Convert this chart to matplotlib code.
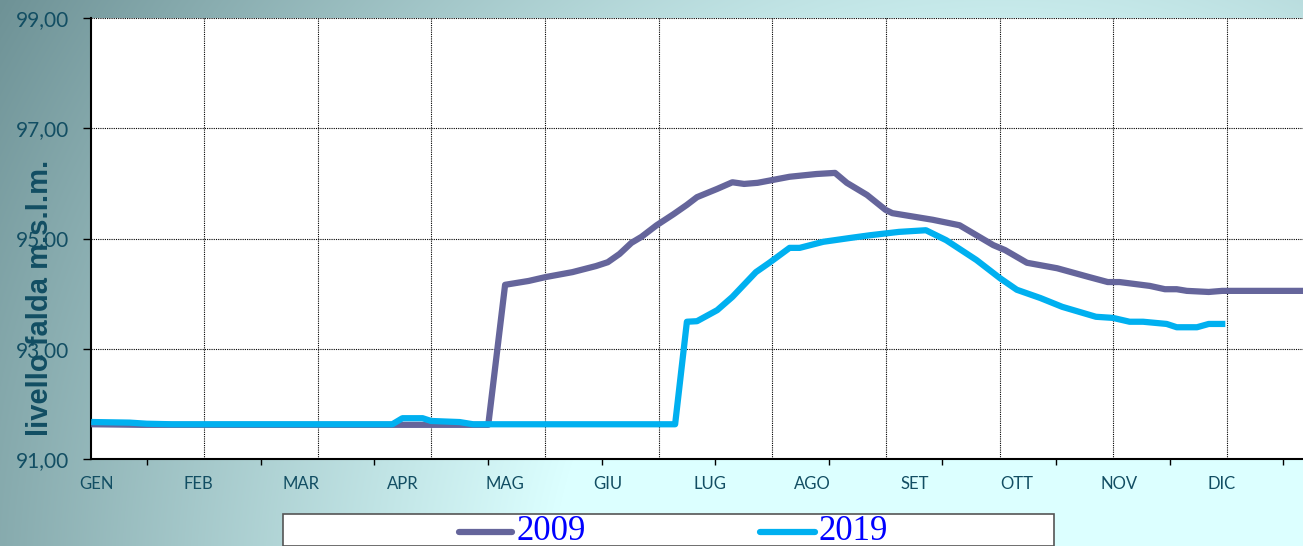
import matplotlib
matplotlib.use("Agg")
import matplotlib.pyplot as plt
from matplotlib.patches import Rectangle
from matplotlib.lines import Line2D
import numpy as np

# x in days from start of year, y in m s.l.m.
days_2009 = [1, 15, 118, 123, 130, 135, 143, 150, 153.5, 157, 160.5, 163.5, 168, 173, 177, 180,
             186, 190.5, 194, 198, 207.5, 215.5, 221, 224.5, 230.5, 236, 238, 250, 258, 268,
             271.5, 278, 287, 296.5, 302, 305.5, 314.5, 319, 322.5, 325.5, 332, 336, 360]
level_2009 = [91.63, 91.62, 91.62, 94.16, 94.23, 94.30, 94.39, 94.50, 94.57, 94.72, 94.92, 95.03,
              95.24, 95.44, 95.61, 95.75, 95.90, 96.02, 95.99, 96.01, 96.12, 96.17, 96.19, 96.01,
              95.79, 95.52, 95.46, 95.34, 95.24, 94.88, 94.79, 94.56, 94.46, 94.30, 94.21, 94.21,
              94.14, 94.08, 94.08, 94.05, 94.03, 94.05, 94.05]

days_2019 = [1, 11.5, 16.5, 24, 89.5, 92.5, 98.5, 101, 109.5, 113.5, 173.5, 177, 180, 186, 190.5,
             197.5, 201.5, 207.5, 210.5, 217.5, 225.5, 231.5, 240, 248, 254, 263, 270, 275, 282,
             288.5, 298.5, 303.5, 308.5, 312.5, 319.5, 322.5, 328.5, 332, 336]
level_2019 = [91.67, 91.66, 91.64, 91.63, 91.63, 91.74, 91.74, 91.69, 91.67, 91.63, 91.63, 93.49,
              93.50, 93.70, 93.94, 94.39, 94.56, 94.83, 94.83, 94.94, 95.01, 95.06, 95.12, 95.15,
              94.97, 94.61, 94.28, 94.07, 93.92, 93.76, 93.58, 93.56, 93.49, 93.49, 93.45, 93.39,
              93.39, 93.45, 93.45]

months = ["GEN", "FEB", "MAR", "APR", "MAG", "GIU", "LUG", "AGO", "SET", "OTT", "NOV", "DIC"]
y_ticks = [91, 93, 95, 97, 99]
series_names = ["2009", "2019"]
series_colors = ["#65659b", "#00b0f0"]

W, H = 1303, 546
text_col = "#124e63"

fig = plt.figure(figsize=(W / 100, H / 100), dpi=100)

# background gradient
yy, xx = np.mgrid[0:H, 0:W]
d = np.hypot(xx - 1000, yy - 600)
t = np.clip((1166 - d) / 716, 0, 1)[..., None]
dark = np.array([110, 146, 150]) / 255
light = np.array([220, 255, 255]) / 255
bg = dark + (light - dark) * t
bax = fig.add_axes([0, 0, 1, 1], zorder=0)
bax.imshow(bg, aspect="auto", extent=(0, W, H, 0))
bax.axis("off")

ax = fig.add_axes([91 / W, 1 - 459 / H, 1212 / W, 441 / H], zorder=1)
ax.set_facecolor("white")
ax.set_xlim(0, 360)
ax.set_ylim(91, 99)

for x, y, c in zip([days_2009, days_2019], [level_2009, level_2019], series_colors):
    ax.plot(x, y, color=c, lw=4.5, solid_joinstyle="round", zorder=3)

# grid
ax.set_yticks(y_ticks)
ax.set_yticklabels([f"{v},00" for v in y_ticks], fontsize=15, color=text_col, family="Lato")
ax.yaxis.grid(True, color="black", lw=0.8, ls=(0, (1, 1)))
grid_x = 33.55 + 33.76 * np.arange(10)
for gx in grid_x:
    ax.axvline(gx, color="black", lw=0.8, ls=(0, (1, 1)), zorder=1)
ax.tick_params(axis="y", length=6, width=1, direction="out", pad=10)

ax.set_xticks(1.5 + 30.4 * np.arange(12))
ax.set_xticklabels(months, fontsize=12, color=text_col, family="Lato")
ax.set_xticks(16.6 + 33.76 * np.arange(11), minor=True)
ax.tick_params(axis="x", which="major", length=0, pad=12)
ax.tick_params(axis="x", which="minor", length=4, width=1, direction="out")

ax.spines["top"].set_visible(False)
ax.spines["right"].set_visible(False)
ax.spines["left"].set_linewidth(1.5)
ax.spines["bottom"].set_linewidth(1.5)

fig.text(40 / W, 1 - 298 / H, "livello falda m.s.l.m.", rotation=90, ha="center", va="center",
         fontsize=21, fontweight="bold", color=text_col, family="Liberation Sans")

# legend box
fig.patches.append(Rectangle((283 / W, 0), (1054 - 283) / W, (H - 514) / H,
                             transform=fig.transFigure, facecolor="white",
                             edgecolor="#555555", lw=1.2, zorder=2))
for (x0, x1, tx), name, c in zip([(459, 512, 517), (760, 815, 818)], series_names, series_colors):
    fig.lines.append(Line2D([x0 / W, x1 / W], [1 - 532 / H] * 2, transform=fig.transFigure,
                            color=c, lw=4.5, solid_capstyle="round", zorder=3))
    fig.text(tx / W, 1 - 532 / H, name, ha="left", va="center", fontsize=25,
             color="#0000ff", family="Liberation Serif", zorder=3)

fig.savefig("out.png", dpi=100)
